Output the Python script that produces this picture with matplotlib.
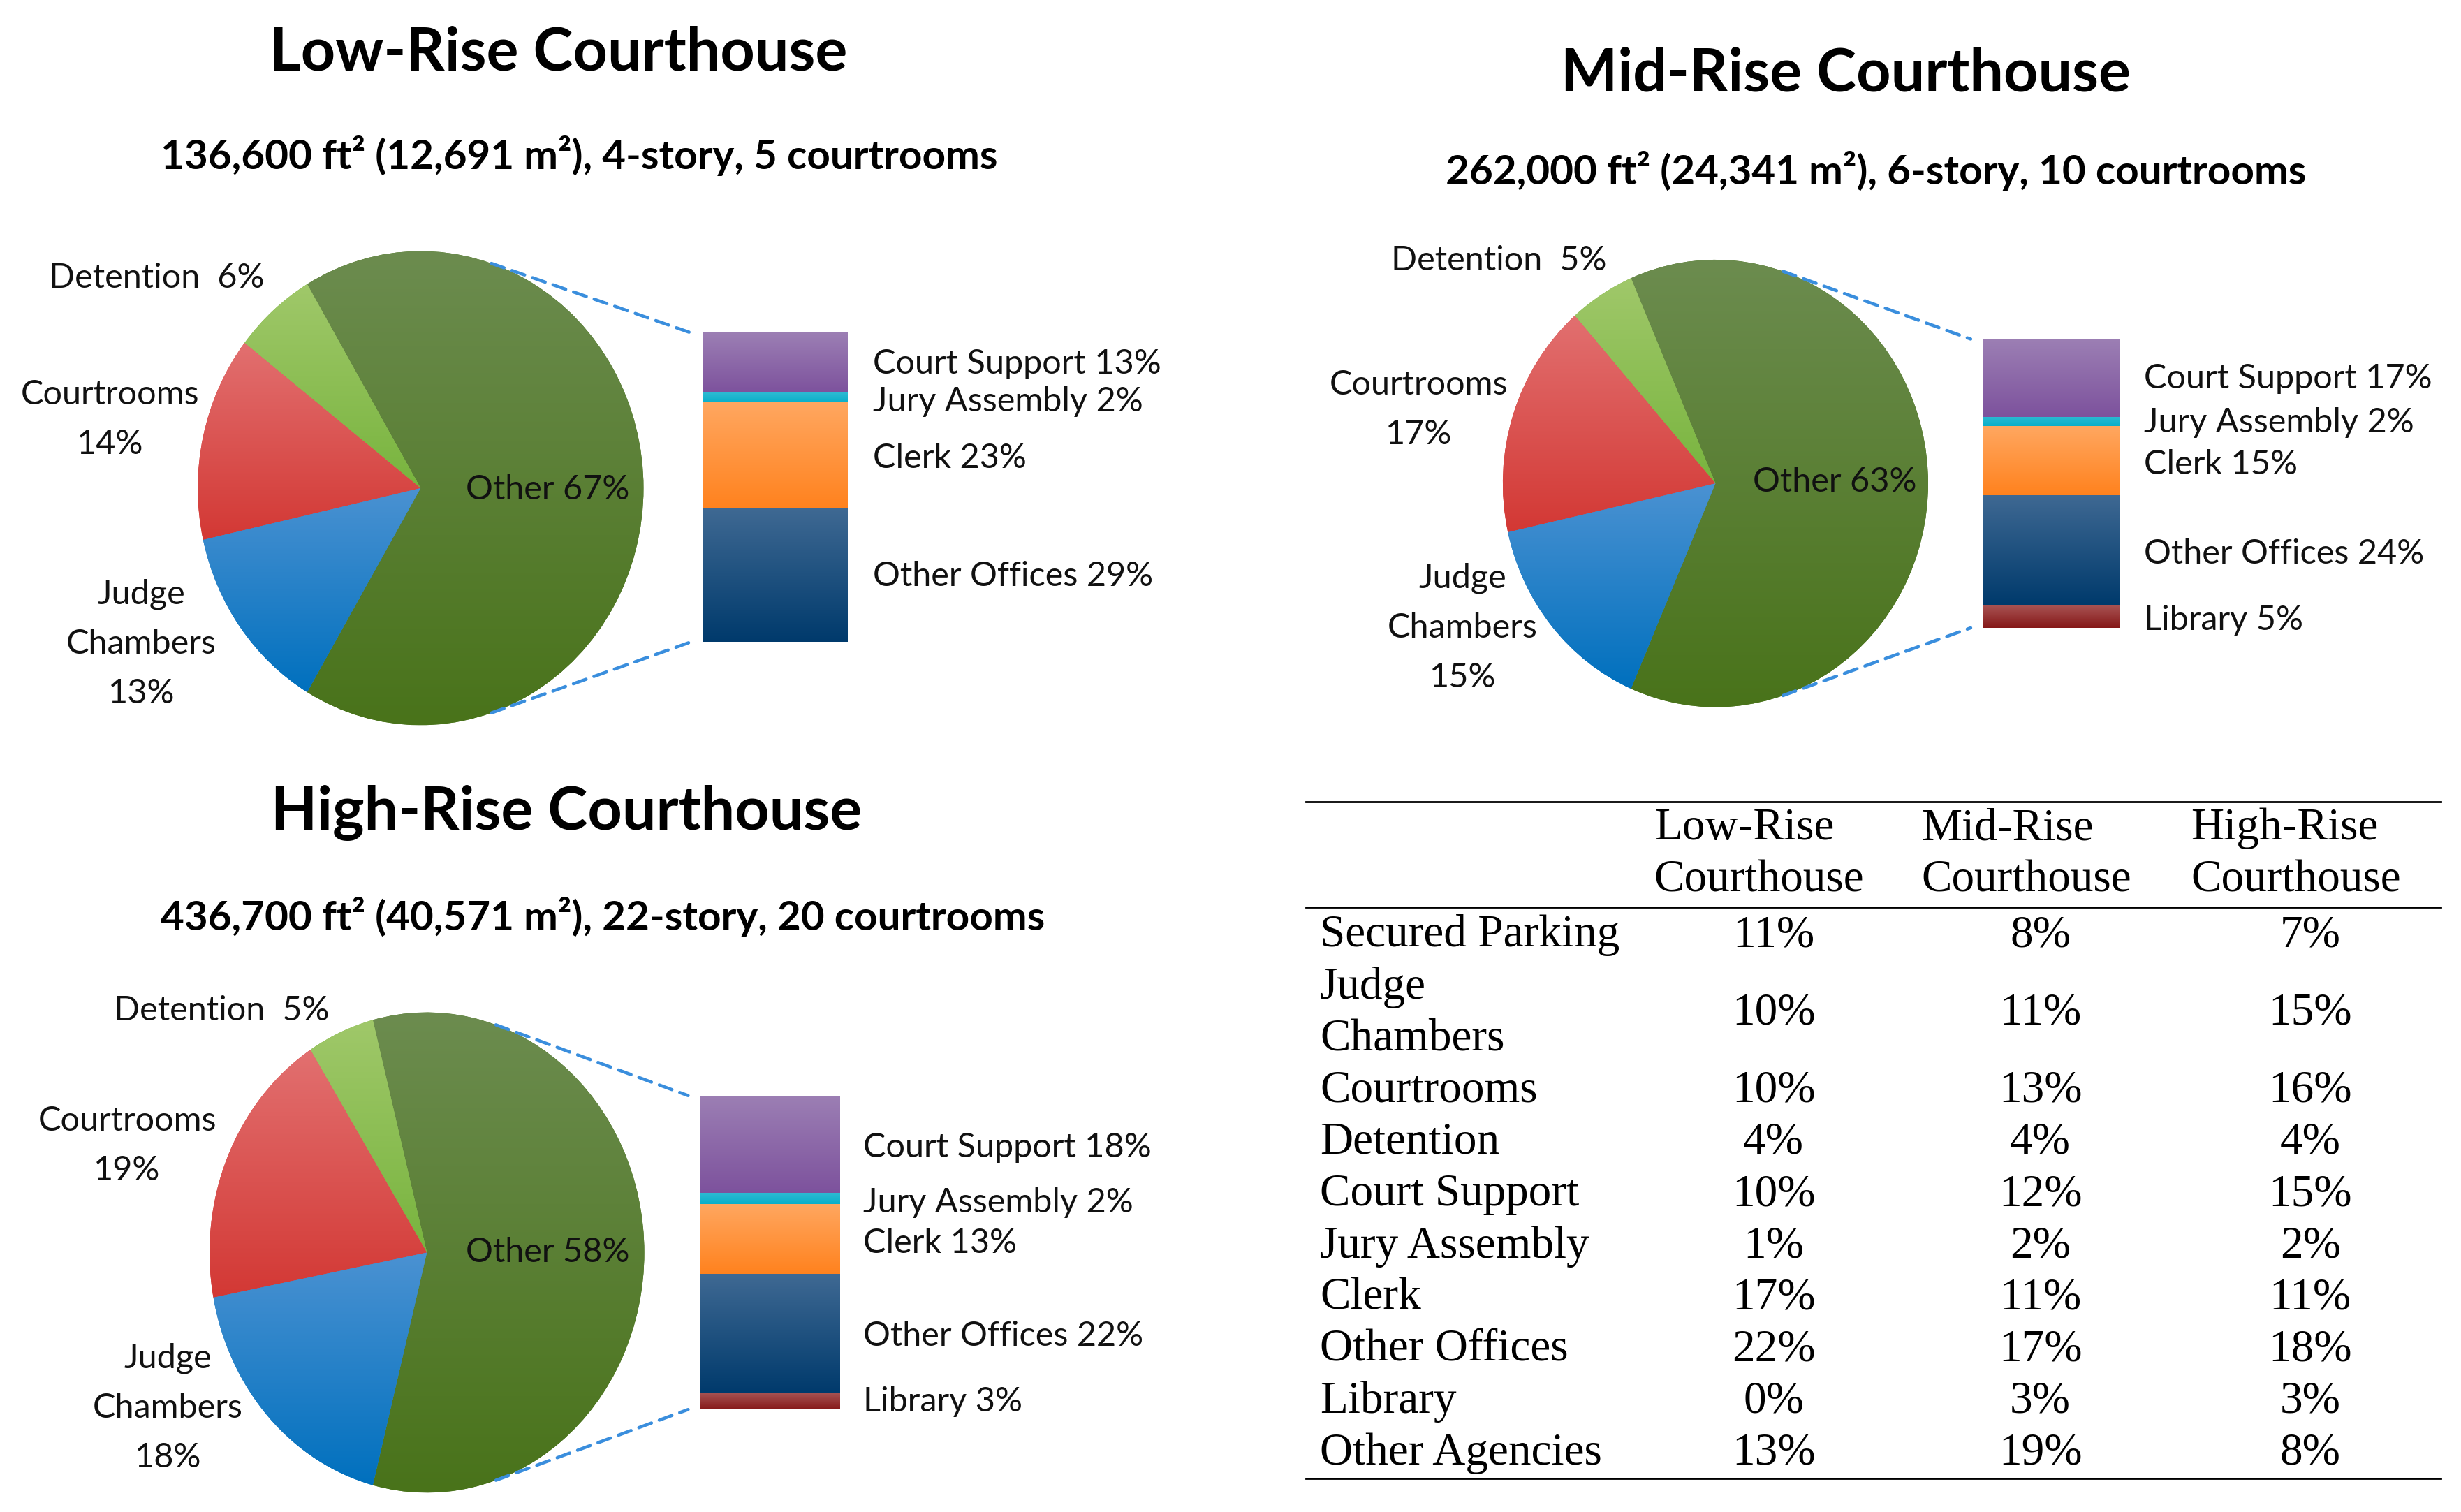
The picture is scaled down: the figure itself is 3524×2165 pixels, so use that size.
import numpy as np
import matplotlib
matplotlib.use("Agg")
import matplotlib.pyplot as plt
from matplotlib.patches import ConnectionPatch
from matplotlib.colors import to_rgb

# ---------------- data ----------------
pie_names = ["Other", "Detention", "Courtrooms", "Judge\nChambers"]
low_pie = [67, 6, 14, 13]
mid_pie = [63, 5, 17, 15]
high_pie = [58, 5, 19, 18]

bar_names = ["Court Support", "Jury Assembly", "Clerk", "Other Offices", "Library"]
low_bar = [13, 2, 23, 29]
mid_bar = [17, 2, 15, 24, 5]
high_bar = [18, 2, 13, 22, 3]

titles = ["Low-Rise Courthouse", "Mid-Rise Courthouse", "High-Rise Courthouse"]
subtitles = ["136,600 ft\u00b2 (12,691 m\u00b2), 4-story, 5 courtrooms",
             "262,000 ft\u00b2 (24,341 m\u00b2), 6-story, 10 courtrooms",
             "436,700 ft\u00b2 (40,571 m\u00b2), 22-story, 20 courtrooms"]

table_cols = ["Low-Rise\nCourthouse", "Mid-Rise\nCourthouse", "High-Rise\nCourthouse"]
table_rows = ["Secured Parking", "Judge\nChambers", "Courtrooms", "Detention", "Court Support",
              "Jury Assembly", "Clerk", "Other Offices", "Library", "Other Agencies"]
low_tab = [11, 10, 10, 4, 10, 1, 17, 22, 0, 13]
mid_tab = [8, 11, 13, 4, 12, 2, 11, 17, 3, 19]
high_tab = [7, 15, 16, 4, 15, 2, 11, 18, 3, 8]

# ---------------- style ----------------
pie_grad = [("#6C8C4F", "#49731A"),   # Other
            ("#A0C86A", "#78B43E"),   # Detention
            ("#E27070", "#D33834"),   # Courtrooms
            ("#4B92D2", "#0070BE")]   # Judge
bar_grad = [("#9C7FB4", "#7D529D"),   # Court support
            ("#2DBAD2", "#0AAFC9"),   # Jury
            ("#FFA760", "#FF821E"),   # Clerk
            ("#3F6993", "#003A6C"),   # Other offices
            ("#A85454", "#861818")]   # Library
line_col = "#3A8EDD"
sans = ["Lato", "DejaVu Sans"]
serif = ["Liberation Serif", "DejaVu Serif"]

W, H = 1568.0, 963.3
fig = plt.figure(figsize=(35.24, 21.65), dpi=100)
fig.patch.set_facecolor("white")


def fx(x):
    return x / W


def fy(y):
    return 1 - y / H


def add_axes_px(x0, y0, x1, y1):
    return fig.add_axes([x0 / W, 1 - y1 / H, (x1 - x0) / W, (y1 - y0) / H])


def gradient(ax, patch, top, bot, extent):
    t = np.linspace(0, 1, 256)[:, None]
    c0 = np.array(to_rgb(top))
    c1 = np.array(to_rgb(bot))
    img = (c0 * (1 - t) + c1 * t)[:, None, :]
    im = ax.imshow(img, extent=extent, origin="upper", aspect="auto",
                   interpolation="bilinear", zorder=patch.get_zorder() + 0.1)
    im.set_clip_path(patch)


def panel(cx, cy, rx, ry, bbox, pie_vals, bar_vals, title, sub, tpos, spos,
          lbl_pos, other_pos, bar_lbl_x, bar_lbl_y):
    m = 1.02
    axp = add_axes_px(cx - rx * m, cy - ry * m, cx + rx * m, cy + ry * m)
    wedges, _ = axp.pie(pie_vals, startangle=-pie_vals[0] * 1.8, counterclock=True,
                        radius=1, colors=[g[1] for g in pie_grad],
                        wedgeprops=dict(linewidth=0))
    for w, (top, bot) in zip(wedges, pie_grad):
        th = np.radians(np.linspace(w.theta1, w.theta2, 300))
        xs = np.concatenate([[0], np.cos(th)]) * w.r
        ys = np.concatenate([[0], np.sin(th)]) * w.r
        gradient(axp, w, top, bot, (xs.min(), xs.max(), ys.min(), ys.max()))
    axp.set_aspect("auto")
    axp.set_xlim(-m, m)
    axp.set_ylim(-m, m)
    axp.axis("off")

    axb = add_axes_px(*bbox)
    total = sum(bar_vals)
    bottoms = np.concatenate([[0], np.cumsum(bar_vals)[:-1]])
    bars = axb.bar(0.5, bar_vals, width=1.0, bottom=bottoms,
                   color=[g[1] for g in bar_grad[:len(bar_vals)]], linewidth=0)
    for b, (top, bot) in zip(bars, bar_grad):
        gradient(axb, b, top, bot, (0, 1, b.get_y() + b.get_height(), b.get_y()))
    axb.set_xlim(0, 1)
    axb.set_ylim(total, 0)
    axb.axis("off")

    a = np.radians(71.5)
    for sgn, yb in [(1, 1.0), (-1, 0.0)]:
        con = ConnectionPatch(xyA=(np.cos(a), sgn * np.sin(a)), coordsA=axp.transData,
                              xyB=(-0.085, yb), coordsB=axb.transAxes,
                              color=line_col, lw=3.3, linestyle=(0, (4.2, 2.6)))
        fig.add_artist(con)

    fig.text(fx(tpos[0]), fy(tpos[1]), title, ha="center", va="center",
             fontsize=62, fontweight="bold", family=sans)
    fig.text(fx(spos[0]), fy(spos[1]), sub, ha="center", va="center",
             fontsize=42, fontweight="bold", family=sans)

    names = [f"{pie_names[1]}  {pie_vals[1]}%",
             f"{pie_names[2]}\n{pie_vals[2]}%",
             f"{pie_names[3]}\n{pie_vals[3]}%"]
    for s, (x, y) in zip(names, lbl_pos):
        fig.text(fx(x), fy(y), s, ha="center", va="center", fontsize=35,
                 family=sans, linespacing=1.75, color="#111111")
    fig.text(fx(other_pos[0]), fy(other_pos[1]), f"{pie_names[0]} {pie_vals[0]}%",
             ha="center", va="center", fontsize=35, family=sans, color="#111111")
    for nm, v, y in zip(bar_names, bar_vals, bar_lbl_y):
        fig.text(fx(bar_lbl_x), fy(y), f"{nm} {v}%", ha="left", va="center",
                 fontsize=35, family=sans, color="#111111")


panel(268, 311, 142, 151, (448, 212, 540, 409), low_pie, low_bar,
      titles[0], subtitles[0], (356, 34), (369, 99),
      [(100, 177), (70, 267), (90, 410)], (349, 312), 556, [232, 256, 292, 367])
panel(1093, 308, 135.5, 142.5, (1263, 216, 1350, 400), mid_pie, mid_bar,
      titles[1], subtitles[1], (1176, 47), (1195, 109),
      [(955, 166), (904, 261), (932, 400)], (1169, 307), 1366, [241, 269, 296, 353, 395])
panel(272, 798, 138.5, 153, (446, 698, 535, 898), high_pie, high_bar,
      titles[2], subtitles[2], (361, 518), (384, 584),
      [(141, 644), (81, 730), (107, 897)], (349, 798), 550, [731, 766, 792, 851, 893])

# ---------------- table ----------------
tx0, tx1, ty0, ty1 = 832, 1555, 511, 942
axt = add_axes_px(tx0, ty0, tx1, ty1)
axt.set_xlim(tx0, tx1)
axt.set_ylim(ty1, ty0)
axt.axis("off")
line_h = 33.0
head_rule = 578
val_x = [1130, 1300, 1472]
tfs = 47
for lw_y in [ty0, head_rule, ty1]:
    axt.axhline(lw_y, color="black", lw=2.0, clip_on=False)
for cx, col in zip(val_x, table_cols):
    for i, ln in enumerate(col.split("\n")):
        axt.text(cx - 76, ty0 + 17 + line_h * i, ln, ha="left", va="center",
                 fontsize=tfs, family=serif)
y = head_rule
for k, rname in enumerate(table_rows):
    lines = rname.split("\n")
    for i, ln in enumerate(lines):
        axt.text(841, y + 18 + line_h * i, ln, ha="left", va="center",
                 fontsize=tfs, family=serif)
    yc = y + 18 + line_h * (len(lines) - 1) / 2
    for cx, vals in zip(val_x, [low_tab, mid_tab, high_tab]):
        axt.text(cx, yc, f"{vals[k]}%", ha="center", va="center",
                 fontsize=tfs, family=serif)
    y += line_h * len(lines)

fig.savefig("out.png", dpi=100, facecolor="white")
